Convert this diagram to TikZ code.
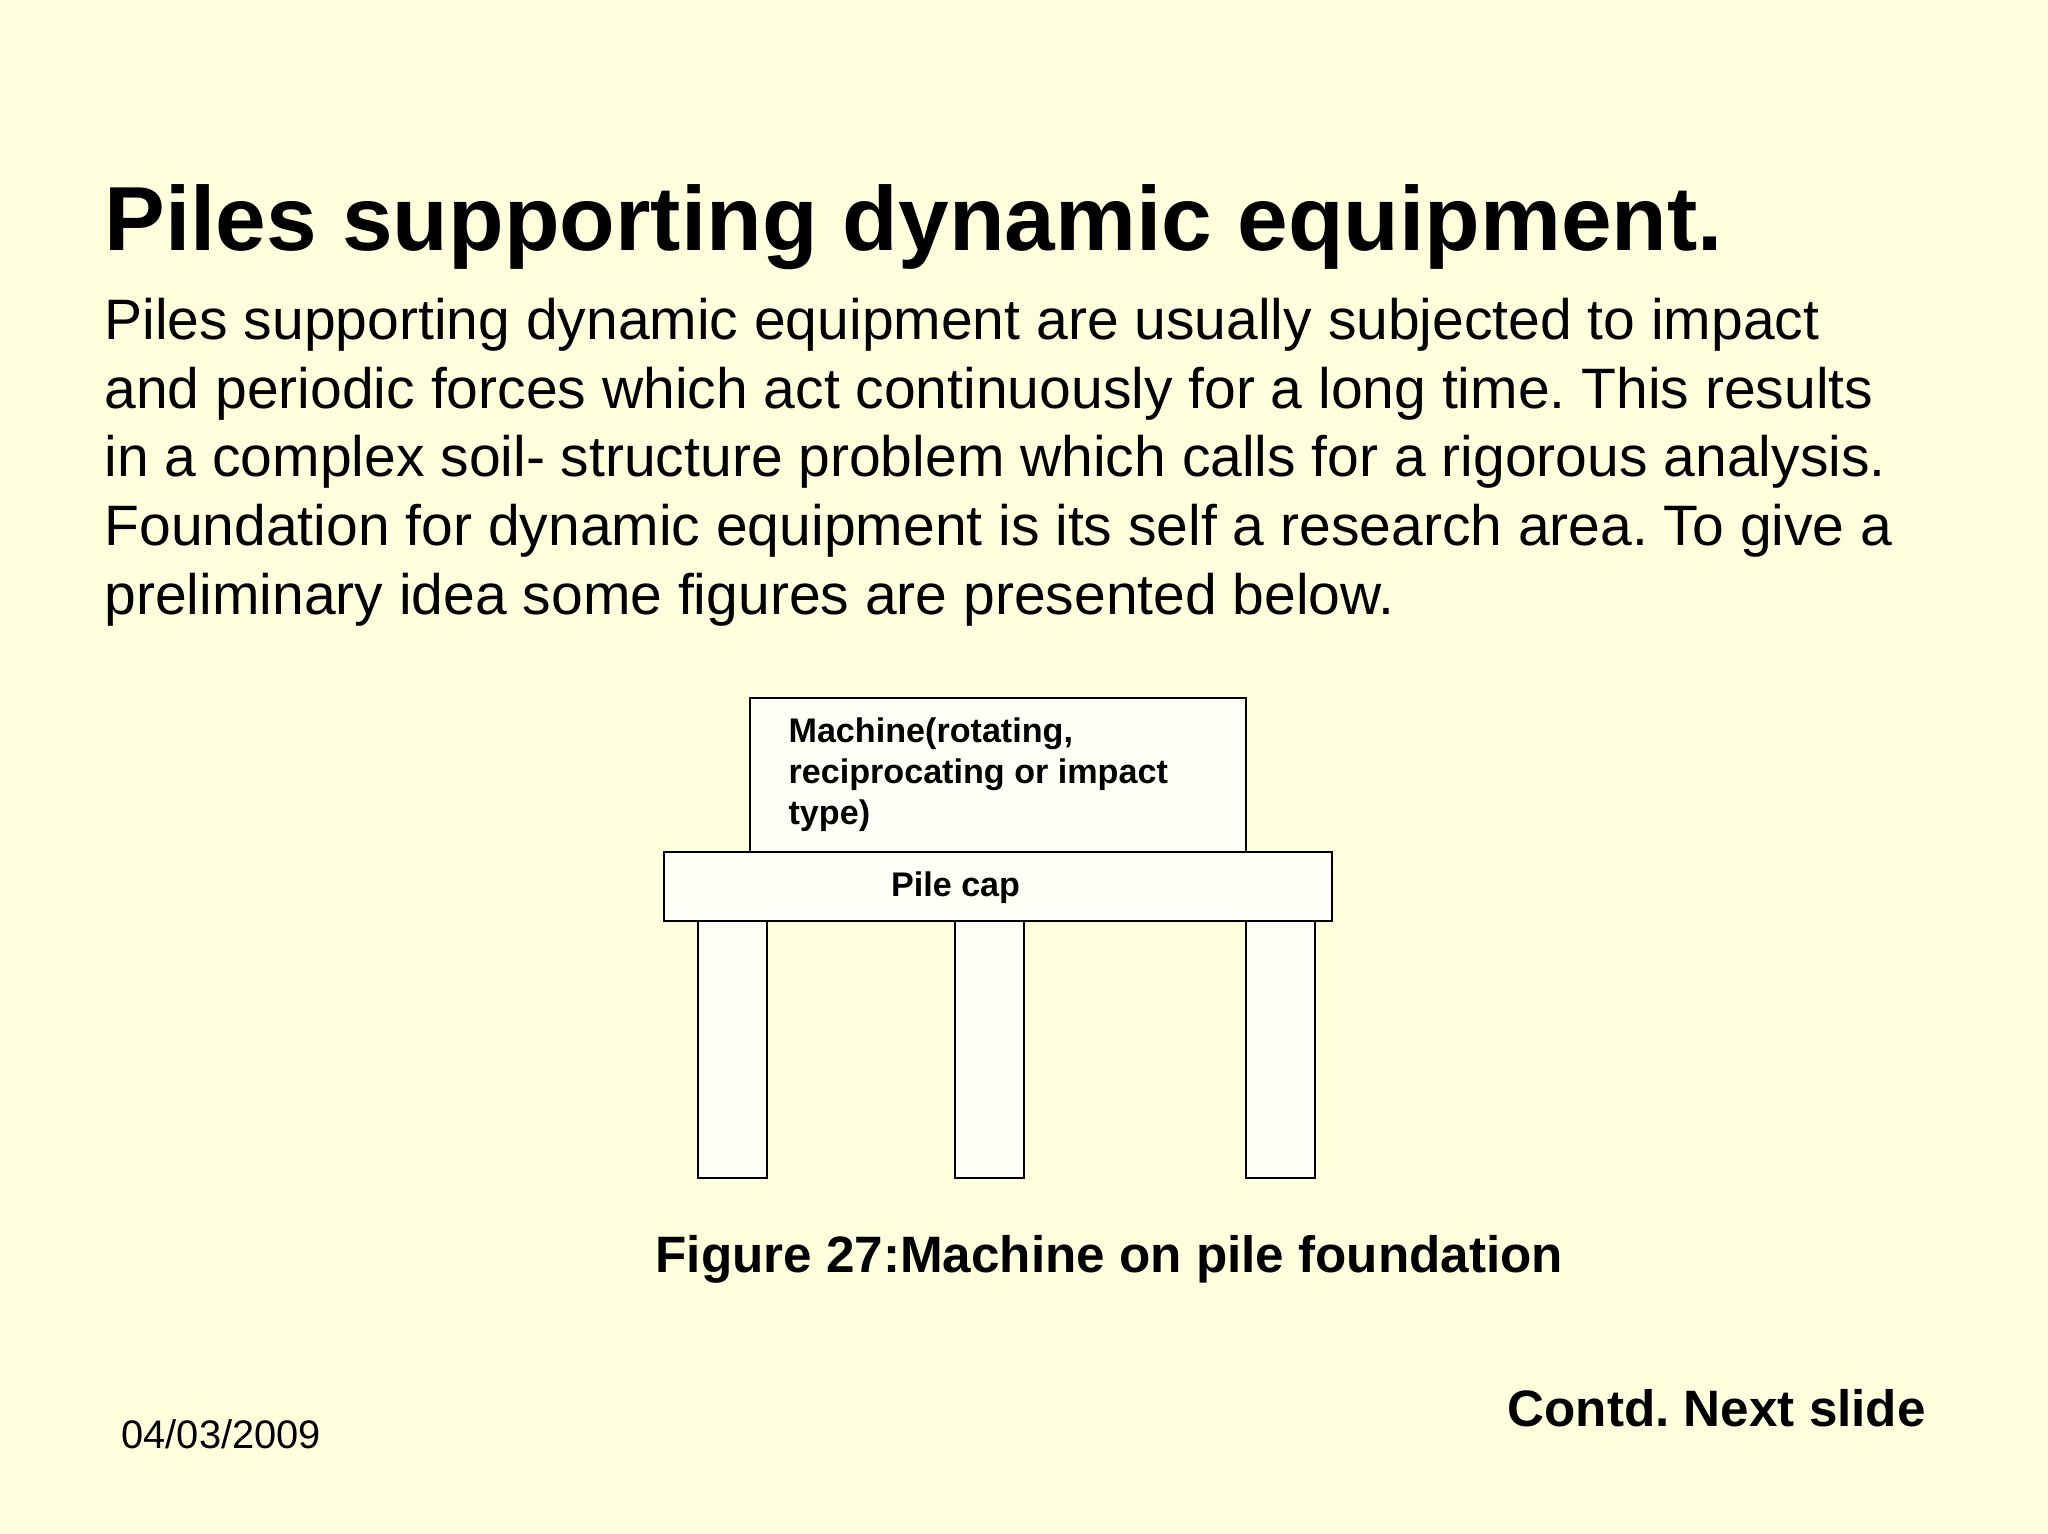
\documentclass[tikz,border=0pt]{standalone}
\usepackage{fontspec}
\setmainfont{Liberation Sans}
\definecolor{slidebg}{HTML}{FFFFDD}
\definecolor{boxfill}{HTML}{FFFFF8}
\frenchspacing

\begin{document}
\begin{tikzpicture}[x=0.35156pt, y=-0.35156pt]
    \tikzstyle{part} = [rectangle, draw=black, fill=boxfill, line width=0.7pt, inner sep=0pt]
    \tikzstyle{pile} = [part, minimum width=69*0.35156pt, minimum height=257*0.35156pt]
    \tikzstyle{boxlabel} = [inner sep=0pt, align=left, font=\bfseries\fontsize{12}{14.5}\selectfont]

    % Slide background
    \fill[slidebg] (0,0) rectangle (2048,1534);
    \useasboundingbox (0,0) rectangle (2048,1534);

    % Heading and body text
    \node[anchor=base west, inner sep=0pt, font=\bfseries\fontsize{32}{38}\selectfont] (title) at (104,251) {Piles supporting dynamic equipment.};
    \node[anchor=north west, inner sep=0pt, align=left, font=\fontsize{20.05}{24.1}\selectfont] (body) at (104,298) {Piles supporting dynamic equipment are usually subjected to impact\\
        and periodic forces which act continuously for a long time. This results\\
        in a complex soil- structure problem which calls for a rigorous analysis.\\
        Foundation for dynamic equipment is its self a research area. To give a\\
        preliminary idea some figures are presented below.};

    % Piles
    \node[pile] (pile1) at (732.6,1049.5) {};
    \node[pile] (pile2) at (989.6,1049.5) {};
    \node[pile] (pile3) at (1280.6,1049.5) {};

    % Machine and cap
    \node[part, minimum width=496*0.35156pt, minimum height=154*0.35156pt] (machine) at (998,775) {};
    \node[part, minimum width=668*0.35156pt, minimum height=69*0.35156pt] (cap) at (998,886.5) {};
    \node[boxlabel, anchor=north west] (machinetext) at (788,717) {Machine(rotating,\\reciprocating or impact\\type)};
    \node[boxlabel, anchor=base west] (captext) at (890.5,896.5) {Pile cap};

    % Captions
    \node[anchor=base west, inner sep=0pt, font=\bfseries\fontsize{18}{22}\selectfont] (figcaption) at (655,1272.5) {Figure 27:Machine on pile foundation};
    \node[anchor=base west, inner sep=0pt, font=\bfseries\fontsize{18}{22}\selectfont] (contd) at (1507,1426) {Contd. Next slide};
    \node[anchor=base west, inner sep=0pt, font=\fontsize{14}{17}\selectfont] (date) at (121,1448) {04/03/2009};
\end{tikzpicture}
\end{document}
